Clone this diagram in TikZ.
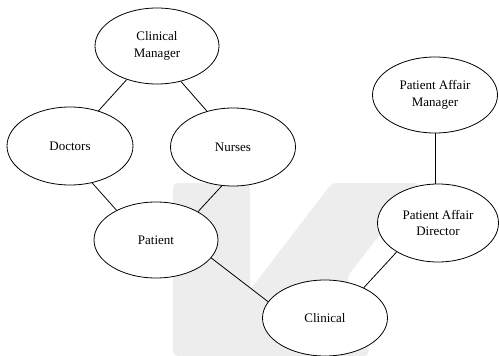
\documentclass[tikz,border=0pt]{standalone}
\usepackage{fontspec}
\setmainfont{Liberation Serif}
\usetikzlibrary{shapes.geometric}
\begin{document}
\begin{tikzpicture}[x=1pt,y=-1pt,
  ent/.style={draw, ellipse, fill=white, line width=0.8pt, inner sep=0pt,
    minimum width=124pt, minimum height=76pt, align=center,
    font=\fontsize{13}{16.5}\selectfont},
  link/.style={line width=0.8pt}]
\useasboundingbox (0,0) rectangle (499,356);
\fill[black!7, rounded corners=5pt] (173,356) -- (173,183) -- (250,183) -- (250,290)
  -- (332,183) -- (420,183) -- (347,277) -- (370,356) -- cycle;
\node[ent] (cm) at (157,46) {Clinical\\Manager};
\node[ent, minimum width=126pt, minimum height=78pt] (doc) at (70,146) {Doctors};
\node[ent, minimum width=125pt, minimum height=78pt] (nur) at (233,147) {Nurses};
\node[ent] (pat) at (156,240) {Patient};
\node[ent, minimum width=125pt] (cli) at (325,318) {Clinical};
\node[ent, minimum width=121pt, minimum height=78pt] (pad) at (438,223) {Patient Affair\\Director};
\node[ent, minimum width=125pt] (pam) at (435,95) {Patient Affair\\Manager};
\draw[link] (cm.-132) -- (doc.51);
\draw[link] (cm.-56) -- (nur.126);
\draw[link] (doc.-59) -- (pat.143);
\draw[link] (nur.-106) -- (pat.34);
\draw[link] (pat.-18) -- (cli.164);
\draw[link] (cli.38) -- (pad.-145);
\draw[link] (pam.south) -- (pam.south |- pad.north);
\end{tikzpicture}
\end{document}
